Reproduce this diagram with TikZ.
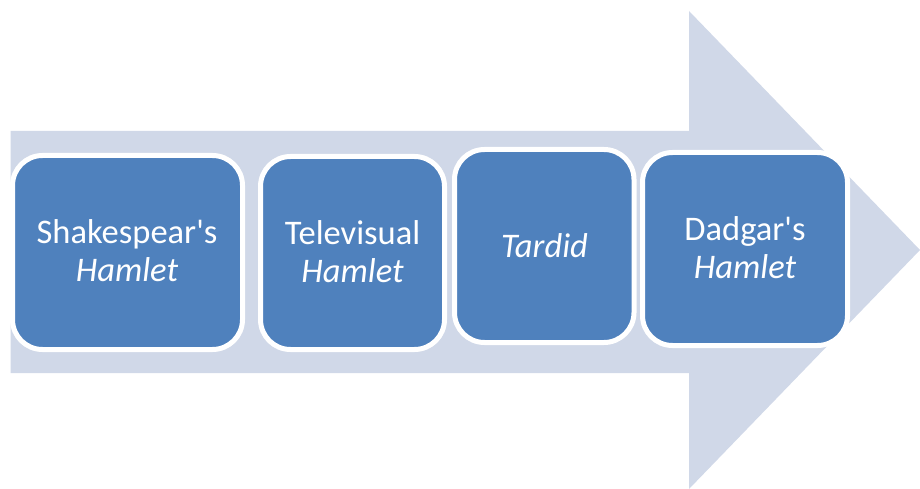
\documentclass[tikz,border=0pt]{standalone}
\usepackage{fontspec}
\setmainfont{Carlito}
\newfontfamily\calib{Carlito}
\definecolor{arrowfill}{RGB}{208,216,232}
\definecolor{boxfill}{RGB}{79,129,189}
\begin{document}
\begin{tikzpicture}[x=1pt,y=-1pt,
  stage/.style={draw=white,line width=5pt,fill=boxfill,rounded corners=30pt},
  stagetext/.style={text=white,font=\calib\fontsize{34.5}{38}\selectfont,align=center,inner sep=0pt}]
\useasboundingbox (0,0) rectangle (920,489);
% big arrow
\fill[arrowfill] (10.5,131) -- (689,131) -- (689,11) -- (920,250) -- (689,489) -- (689,373) -- (10.5,373) -- cycle;
% stages
\draw[stage] (12.5,155.5) rectangle (242.5,349.5);
\draw[stage] (260.5,156.5) rectangle (444.5,349.5);
\draw[stage] (454.5,149.5) rectangle (634,342.5);
\draw[stage] (642.5,152.5) rectangle (847.5,345.5);
\node[stagetext] (s1) at (127,251) {Shakespear's\\\textit{Hamlet}};
\node[stagetext] (s2) at (352.5,252) {Televisual\\\textit{Hamlet}};
\node[stagetext] (s3) at (544.5,246) {\textit{Tardid}};
\node[stagetext] (s4) at (745,248) {Dadgar's\\\textit{Hamlet}};
\end{tikzpicture}
\end{document}
